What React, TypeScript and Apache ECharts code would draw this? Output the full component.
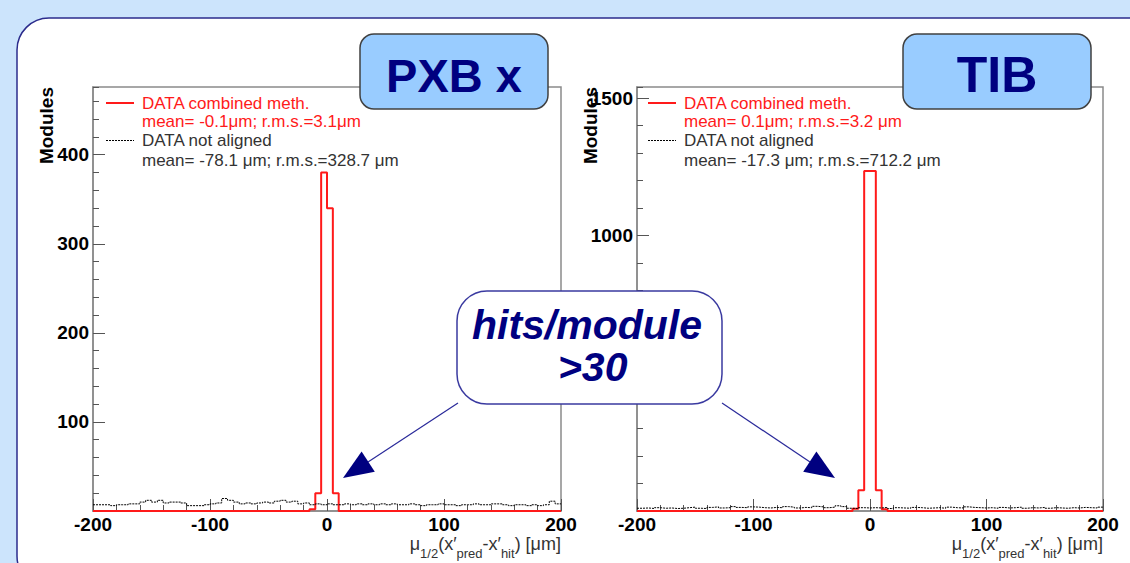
import React, { useEffect, useRef } from "react";
import * as echarts from "echarts";

const FONT = "'Liberation Sans', Arial, Helvetica, sans-serif";

// histogram binning: 80 bins of 5 µm from -200 to 200
const binStart = -200;
const binWidth = 5;
const xTickLabels = [-200, -100, 0, 100, 200];
// y tick values hidden behind the callout box in the reference
const hiddenYLabels = [500];

const pxbCombined = [
  0, 0, 0, 0, 0, 0, 0, 0, 0, 0,
  0, 0, 0, 0, 0, 0, 0, 0, 0, 0,
  0, 0, 0, 0, 0, 0, 0, 0, 0, 0,
  0, 0, 0, 0, 0, 0, 0, 2, 20, 380,
  340, 20, 0, 0, 0, 0, 0, 0, 0, 0,
  0, 0, 0, 0, 0, 0, 0, 0, 0, 0,
  0, 0, 0, 0, 0, 0, 0, 0, 0, 0,
  0, 0, 0, 0, 0, 0, 0, 0, 0, 0,
];
const pxbNotAligned = [
  7, 7, 7, 6, 7, 7, 8, 8, 10, 12,
  10, 12, 9, 10, 10, 9, 6, 6, 6, 7,
  8, 9, 14, 12, 10, 8, 9, 8, 9, 10,
  9, 11, 12, 10, 11, 8, 9, 7, 8, 7,
  8, 7, 7, 8, 7, 8, 7, 8, 7, 8,
  7, 8, 7, 7, 8, 7, 6, 7, 7, 8,
  7, 7, 6, 7, 7, 8, 7, 7, 8, 8,
  7, 6, 7, 7, 6, 7, 6, 7, 11, 8,
];
const tibCombined = [
  0, 0, 0, 0, 0, 0, 0, 0, 0, 0,
  0, 0, 0, 0, 0, 0, 0, 0, 0, 0,
  0, 0, 0, 0, 0, 0, 0, 0, 0, 0,
  0, 0, 0, 0, 0, 0, 0, 8, 75, 1235,
  1235, 75, 6, 0, 0, 0, 0, 0, 0, 0,
  0, 0, 0, 0, 0, 0, 0, 0, 0, 0,
  0, 0, 0, 0, 0, 0, 0, 0, 0, 0,
  0, 0, 0, 0, 0, 0, 0, 0, 0, 0,
];
const tibNotAligned = [
  10, 11, 9, 12, 10, 11, 9, 10, 12, 14,
  10, 9, 13, 15, 11, 12, 16, 13, 12, 15,
  14, 12, 11, 13, 12, 16, 14, 11, 13, 12,
  17, 15, 12, 14, 19, 16, 10, 9, 12, 11,
  12, 11, 13, 9, 12, 11, 10, 13, 12, 10,
  11, 12, 10, 14, 12, 11, 15, 13, 12, 11,
  12, 10, 13, 11, 12, 14, 10, 12, 11, 13,
  10, 12, 11, 10, 12, 11, 13, 12, 11, 14,
];

const legendLabels = ["DATA combined meth.", "DATA not aligned"];
const pxbStats = ["mean= -0.1μm; r.m.s.=3.1μm", "mean= -78.1 μm; r.m.s.=328.7 μm"];
const tibStats = ["mean= 0.1μm; r.m.s.=3.2 μm", "mean= -17.3 μm; r.m.s.=712.2 μm"];

function histPoints(values: number[]) {
  const pts = values.map((v, i) => [binStart + i * binWidth, v]);
  pts.push([binStart + values.length * binWidth, values[values.length - 1]]);
  return pts;
}

const RED = "#ff1a1a";
const NAVY = "#000080";

function xAxisCfg(gridIndex: number) {
  return {
    type: "value",
    gridIndex,
    min: xTickLabels[0],
    max: xTickLabels[xTickLabels.length - 1],
    interval: 100,
    axisLine: { show: true, onZero: false, lineStyle: { color: "#8a8a8a", width: 1.5 } },
    axisTick: { show: true, inside: true, length: 12, lineStyle: { color: "#555", width: 1 } },
    minorTick: { show: true, splitNumber: 5, length: 6, lineStyle: { color: "#555", width: 1 } },
    axisLabel: { fontSize: 19, fontWeight: "bold", color: "#000", fontFamily: FONT, margin: 4 },
    splitLine: { show: false },
    minorSplitLine: { show: false },
  };
}

function yMajor(gridIndex: number, max: number, interval: number) {
  return {
    type: "value",
    gridIndex,
    position: "left",
    min: 0,
    max,
    interval,
    axisLine: { show: true, onZero: false, lineStyle: { color: "#8a8a8a", width: 1.5 } },
    axisTick: { show: true, inside: true, length: 12, lineStyle: { color: "#555", width: 1 } },
    axisLabel: {
      fontSize: 19,
      fontWeight: "bold",
      color: "#000",
      fontFamily: FONT,
      margin: 4,
      showMinLabel: false,
      showMaxLabel: false,
      formatter: (v: number) => (hiddenYLabels.includes(v) ? "" : String(v)),
    },
    splitLine: { show: false },
  };
}

function yMinor(gridIndex: number, max: number, interval: number) {
  return {
    type: "value",
    gridIndex,
    position: "left",
    min: 0,
    max,
    interval,
    axisLine: { show: false, onZero: false },
    axisTick: { show: true, inside: true, length: 6, lineStyle: { color: "#555", width: 1 } },
    axisLabel: { show: false },
    splitLine: { show: false },
  };
}

function legendGraphics(x0: number, stats: string[]) {
  const rows = [103, 121.5, 140.5, 160];
  return [
    { type: "line", z: 40, shape: { x1: x0, y1: rows[0], x2: x0 + 28, y2: rows[0] }, style: { stroke: RED, lineWidth: 2 } },
    { type: "text", z: 40, style: { text: legendLabels[0], x: x0 + 36, y: rows[0], fill: RED, fontSize: 17, fontFamily: FONT, verticalAlign: "middle" } },
    { type: "text", z: 40, style: { text: stats[0], x: x0 + 36, y: rows[1], fill: RED, fontSize: 17, fontFamily: FONT, verticalAlign: "middle" } },
    { type: "line", z: 40, shape: { x1: x0, y1: rows[2], x2: x0 + 28, y2: rows[2] }, style: { stroke: "#000", lineWidth: 1, lineDash: [2, 1] } },
    { type: "text", z: 40, style: { text: legendLabels[1], x: x0 + 36, y: rows[2], fill: "#333", fontSize: 17, fontFamily: FONT, verticalAlign: "middle" } },
    { type: "text", z: 40, style: { text: stats[1], x: x0 + 36, y: rows[3], fill: "#333", fontSize: 17, fontFamily: FONT, verticalAlign: "middle" } },
  ];
}

function titleBox(x: number, label: string, size: number) {
  return [
    { type: "rect", z: 60, shape: { x, y: 34, width: 188, height: 75, r: 14 }, style: { fill: "#99ccff", stroke: "#404040", lineWidth: 1.5 } },
    { type: "text", z: 61, style: { text: label, x: x + 94, y: 75, align: "center", verticalAlign: "middle", fill: NAVY, fontSize: size, fontWeight: "bold", fontFamily: FONT } },
  ];
}

function axisTitle(xRight: number) {
  return {
    type: "text",
    z: 40,
    style: {
      text: "{m|μ}{s|1/2}{m|(x′}{s|pred}{m|-x′}{s|hit}{m|) [μm]}",
      x: xRight,
      y: 535,
      align: "right",
      verticalAlign: "top",
      fill: "#333",
      fontSize: 18,
      fontFamily: FONT,
      rich: {
        m: { fontSize: 18, fill: "#333", fontFamily: FONT, verticalAlign: "top" },
        s: { fontSize: 13, fill: "#333", fontFamily: FONT, verticalAlign: "top", padding: [12, 0, 0, 0] },
      },
    },
  };
}

function yTitle(x: number) {
  return {
    type: "text",
    z: 40,
    x,
    y: 87,
    rotation: Math.PI / 2,
    style: { text: "Modules", x: 0, y: 0, align: "right", verticalAlign: "middle", fill: "#000", fontSize: 19, fontWeight: "bold", fontFamily: FONT },
  };
}

export default function App() {
  const ref = useRef<HTMLDivElement>(null);
  useEffect(() => {
    document.body.style.margin = "0";
    if (!ref.current) return;
    const chart = echarts.init(ref.current, undefined, { renderer: "svg" });
    const option: any = {
      animation: false,
      backgroundColor: "#cce4fc",
      grid: [
        { left: 93, top: 87, width: 468, height: 424, show: true, borderColor: "#8a8a8a", borderWidth: 1.5, backgroundColor: "transparent" },
        { left: 637, top: 87, width: 466, height: 424, show: true, borderColor: "#8a8a8a", borderWidth: 1.5, backgroundColor: "transparent" },
      ],
      xAxis: [xAxisCfg(0), xAxisCfg(1)],
      yAxis: [yMajor(0, 476, 100), yMinor(0, 476, 20), yMajor(1, 1540, 500), yMinor(1, 1540, 100)],
      series: [
        { name: legendLabels[0], type: "line", xAxisIndex: 0, yAxisIndex: 0, step: "end", symbol: "none", data: histPoints(pxbCombined), lineStyle: { color: RED, width: 2 }, z: 3 },
        { name: legendLabels[1], type: "line", xAxisIndex: 0, yAxisIndex: 0, step: "end", symbol: "none", data: histPoints(pxbNotAligned), lineStyle: { color: "#000", width: 1, type: [2, 1] }, z: 4 },
        { name: legendLabels[0], type: "line", xAxisIndex: 1, yAxisIndex: 2, step: "end", symbol: "none", data: histPoints(tibCombined), lineStyle: { color: RED, width: 2 }, z: 3 },
        { name: legendLabels[1], type: "line", xAxisIndex: 1, yAxisIndex: 2, step: "end", symbol: "none", data: histPoints(tibNotAligned), lineStyle: { color: "#000", width: 1, type: [2, 1] }, z: 4 },
      ],
      graphic: [
        { type: "rect", z: -10, shape: { x: 17, y: 18, width: 1150, height: 570, r: 32 }, style: { fill: "#fff", stroke: "#2b2b8c", lineWidth: 1.5 } },
        ...legendGraphics(106, pxbStats),
        ...legendGraphics(648, tibStats),
        ...titleBox(360, "PXB x", 47),
        ...titleBox(903, "TIB", 50),
        axisTitle(561),
        axisTitle(1103),
        yTitle(46),
        yTitle(590),
        // callout
        { type: "line", z: 70, shape: { x1: 458, y1: 403, x2: 368, y2: 462 }, style: { stroke: "#2a2a9a", lineWidth: 1.2 } },
        { type: "polygon", z: 70, shape: { points: [[343, 478], [374.8, 471.7], [361.6, 451.5]] }, style: { fill: NAVY } },
        { type: "line", z: 70, shape: { x1: 722, y1: 403, x2: 810, y2: 462 }, style: { stroke: "#2a2a9a", lineWidth: 1.2 } },
        { type: "polygon", z: 70, shape: { points: [[835, 478], [803.2, 471.7], [816.4, 451.5]] }, style: { fill: NAVY } },
        { type: "rect", z: 71, shape: { x: 457, y: 291, width: 265, height: 113, r: 30 }, style: { fill: "#fff", stroke: "#3a3aa0", lineWidth: 1.5 } },
        {
          type: "text",
          z: 72,
          style: {
            text: "hits/module\n >30",
            x: 587,
            y: 346,
            align: "center",
            verticalAlign: "middle",
            lineHeight: 42,
            fill: NAVY,
            fontSize: 41,
            fontWeight: "bold",
            fontStyle: "italic",
            fontFamily: FONT,
          },
        },
      ],
    };
    chart.setOption(option);
    return () => chart.dispose();
  }, []);
  return <div ref={ref} style={{ width: 1130, height: 563 }} />;
}
